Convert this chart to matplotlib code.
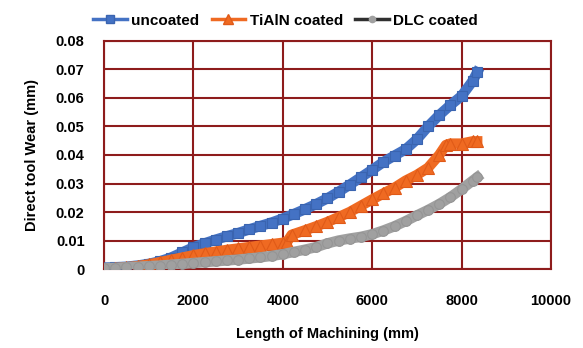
import matplotlib
matplotlib.use("Agg")
import matplotlib.pyplot as plt
from matplotlib.lines import Line2D

length_mm = [0, 250, 500, 750, 1000, 1250, 1500, 1750, 2000, 2250, 2500, 2750,
             3000, 3250, 3500, 3750, 4000, 4250, 4500, 4750, 5000, 5250, 5500,
             5750, 6000, 6250, 6500, 6750, 7000, 7250, 7500, 7750, 8000, 8250, 8350]

uncoated = [0.0005, 0.0006, 0.0008, 0.0012, 0.0018, 0.0027, 0.0040, 0.0058, 0.0076,
            0.0090, 0.0103, 0.0115, 0.0126, 0.0139, 0.0151, 0.0163, 0.0177, 0.0193,
            0.0210, 0.0228, 0.0248, 0.0271, 0.0296, 0.0322, 0.0348, 0.0375, 0.0398,
            0.0420, 0.0455, 0.0500, 0.0540, 0.0575, 0.0607, 0.0660, 0.0690]

tialn_x = [0, 250, 500, 750, 1000, 1250, 1500, 1750, 2000, 2250, 2500, 2750,
           3000, 3250, 3500, 3750, 4000, 4100, 4200, 4500, 4750, 5000, 5250, 5500,
           5750, 6000, 6250, 6500, 6750, 7000, 7250, 7500, 7650, 7750, 8000, 8250, 8350]
tialn = [0.0, 0.0003, 0.0006, 0.0010, 0.0016, 0.0024, 0.0032, 0.0040, 0.0048,
         0.0055, 0.0061, 0.0067, 0.0072, 0.0077, 0.0082, 0.0087, 0.0092, 0.0096,
         0.0120, 0.0136, 0.0150, 0.0165, 0.0182, 0.0200, 0.0222, 0.0244, 0.0265,
         0.0285, 0.0310, 0.0330, 0.0355, 0.0400, 0.0435, 0.0440, 0.0440, 0.0448, 0.0448]

dlc = [0.0003, 0.0004, 0.0006, 0.0008, 0.0010, 0.0012, 0.0015, 0.0018, 0.0021,
       0.0024, 0.0027, 0.0030, 0.0033, 0.0037, 0.0041, 0.0046, 0.0052, 0.0060,
       0.0068, 0.0077, 0.0090, 0.0100, 0.0107, 0.0113, 0.0122, 0.0135, 0.0150,
       0.0168, 0.0188, 0.0207, 0.0228, 0.0252, 0.0280, 0.0310, 0.0322]

x_ticks = [0, 2000, 4000, 6000, 8000, 10000]
y_ticks = [0, 0.01, 0.02, 0.03, 0.04, 0.05, 0.06, 0.07, 0.08]
y_tick_labels = ["0", "0.01", "0.02", "0.03", "0.04", "0.05", "0.06", "0.07", "0.08"]

plt.rcParams['font.family'] = ['Liberation Sans', 'DejaVu Sans']
plt.rcParams['font.weight'] = 'bold'

fig = plt.figure(figsize=(5.83, 3.48), dpi=100)
ax = fig.add_axes([0.1784, 0.227, 0.7666, 0.6552])

grid_c = '#8E1C1C'
blue = '#4472C4'
orange = '#EF6A22'
gray = '#A0A0A0'

ax.plot(length_mm, uncoated, color=blue, lw=7.5, marker='s', ms=7,
        markeredgecolor='#3A64B0', markeredgewidth=0.8, zorder=3)
ax.plot(tialn_x, tialn, color=orange, lw=7.5, marker='^', ms=8,
        markeredgecolor='#E05A18', markeredgewidth=0.8, zorder=4)
ax.plot(length_mm, dlc, color=gray, lw=7.5, marker='o', ms=7,
        markeredgecolor='#959595', markeredgewidth=0.8, zorder=5)

ax.set_xlim(0, 10000)
ax.set_ylim(0, 0.08)
ax.set_xticks(x_ticks)
ax.set_xticklabels([str(v) for v in x_ticks])
ax.set_yticks(y_ticks)
ax.set_yticklabels(y_tick_labels)
ax.grid(True, color=grid_c, lw=1.5, zorder=1)
ax.set_axisbelow(True)
for s in ax.spines.values():
    s.set_color(grid_c)
    s.set_linewidth(1.5)
ax.tick_params(length=0, labelsize=10.5)
ax.tick_params(axis='x', pad=18)
ax.tick_params(axis='y', pad=14)
for lab in ax.get_xticklabels() + ax.get_yticklabels():
    lab.set_fontweight('bold')

ax.set_xlabel('Length of Machining (mm)', fontsize=10.5, fontweight='bold', labelpad=14)
ax.set_ylabel('Direct tool Wear (mm)', fontsize=10.5, fontweight='bold', labelpad=12)

handles = [
    Line2D([], [], color=blue, lw=2.5, marker='s', ms=6, markeredgecolor='#3A64B0'),
    Line2D([], [], color=orange, lw=2.5, marker='^', ms=6.5, markeredgecolor='#E05A18'),
    Line2D([], [], color='#303030', lw=2.5, marker='o', ms=4.5,
           markerfacecolor=gray, markeredgecolor=gray),
]
leg = fig.legend(handles, ['uncoated', 'TiAlN coated', 'DLC coated'],
                 loc='upper center', bbox_to_anchor=(0.49, 1.0), ncol=3, frameon=False,
                 fontsize=11, handlelength=2.2, handletextpad=0.3, columnspacing=0.8)
for t in leg.get_texts():
    t.set_fontweight('bold')

fig.savefig('out.png', dpi=100)
